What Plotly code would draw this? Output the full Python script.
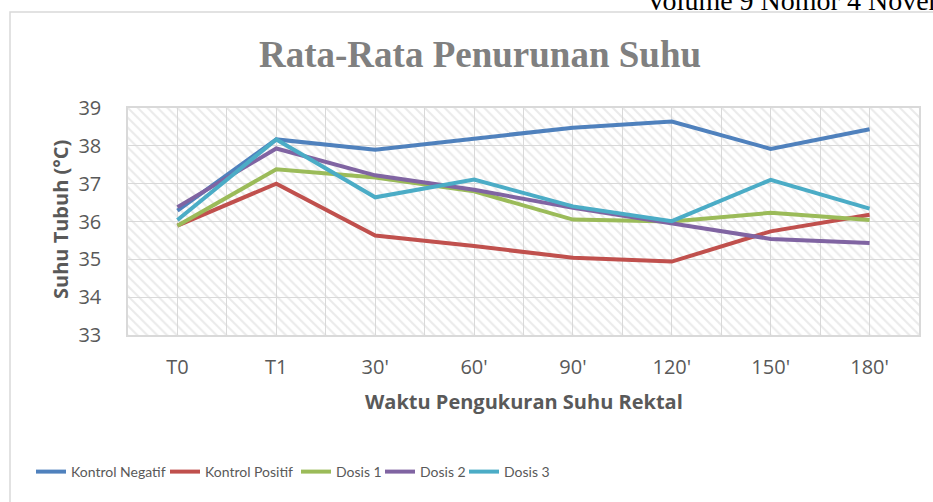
import plotly.graph_objects as go

# ---- data ----
categories = ["T0", "T1", "30'", "60'", "90'", "120'", "150'", "180'"]
kontrol_negatif = [36.29, 38.17, 37.90, 38.20, 38.48, 38.64, 37.92, 38.44]
kontrol_positif = [35.89, 37.00, 35.63, 35.35, 35.04, 34.94, 35.74, 36.18]
dosis_1 = [35.89, 37.38, 37.16, 36.80, 36.05, 36.00, 36.23, 36.04]
dosis_2 = [36.38, 37.93, 37.22, 36.84, 36.36, 35.96, 35.54, 35.43]
dosis_3 = [36.04, 38.17, 36.64, 37.11, 36.40, 36.01, 37.10, 36.34]
series_names = ["Kontrol Negatif", "Kontrol Positif", "Dosis 1", "Dosis 2", "Dosis 3"]
y_min, y_max = 33, 39
y_ticks = [33, 34, 35, 36, 37, 38, 39]

title_text = "Rata-Rata Penurunan Suhu"
y_title = "Suhu Tubuh (°C)"
x_title = "Waktu Pengukuran Suhu Rektal"
header_text = "Volume 9 Nomor 4 November"

# ---- layout geometry (pixels) ----
W, H = 933, 502
L, R, T, B = 128, 919, 108, 335
legend_px = [38, 172, 303, 387, 471]   # left edge of each legend line sample


def xp(px):
    return (px - L) / (R - L)


def yp(py):
    return (B - py) / (B - T)


colors = ["#4F81BD", "#C0504D", "#9BBB59", "#8064A2", "#4BACC6"]
TXT = "#595959"
GRID = "#d9d9d9"

idx = list(range(len(categories)))
x_lo, x_hi = -0.5, len(categories) - 0.5

fig = go.Figure()

# hatched plot-area background
fig.add_trace(go.Scatter(
    x=[x_lo, x_hi, x_hi, x_lo, x_lo], y=[y_min, y_min, y_max, y_max, y_min],
    mode="lines", line=dict(width=0), fill="toself",
    fillcolor="rgba(0,0,0,0)",
    fillpattern=dict(shape="\\", fgcolor="#d6d6d6", bgcolor="rgba(0,0,0,0)",
                     size=7, solidity=0.3),
    hoverinfo="skip", showlegend=False,
))

legend_layouts = {}
for i, (name, vals, c) in enumerate(zip(series_names,
                                        [kontrol_negatif, kontrol_positif, dosis_1, dosis_2, dosis_3],
                                        colors)):
    lg = "legend" if i == 0 else f"legend{i + 1}"
    fig.add_trace(go.Scatter(x=idx, y=vals, mode="lines", name=name, legend=lg,
                             line=dict(color=c, width=4)))
    legend_layouts[lg] = dict(
        orientation="h", x=xp(legend_px[i] - 7), xanchor="left",
        y=yp(472), yanchor="middle",
        font=dict(family="Lato", size=14, color=TXT),
        bgcolor="rgba(0,0,0,0)", itemwidth=30)

fig.update_layout(
    width=W, height=H,
    margin=dict(l=L, r=W - R, t=T, b=H - B, pad=0),
    paper_bgcolor="white", plot_bgcolor="white",
    font=dict(family="Open Sans", color=TXT),
    showlegend=True,
    xaxis=dict(range=[x_lo, x_hi], tickmode="array", tickvals=idx, ticktext=categories,
               showgrid=True, gridcolor=GRID, gridwidth=1.2, zeroline=False,
               showline=True, mirror=True, linecolor=GRID, linewidth=1.5,
               ticks="", ticklabelstandoff=13,
               tickfont=dict(family="Open Sans", size=20, color=TXT),
               minor=dict(tickmode="array", tickvals=[i + 0.5 for i in idx[:-1]],
                          showgrid=True, gridcolor=GRID, gridwidth=1.2, ticks="")),
    yaxis=dict(range=[y_min, y_max], tickmode="array", tickvals=y_ticks,
               showgrid=True, gridcolor=GRID, gridwidth=1.2, zeroline=False,
               showline=True, mirror=True, linecolor=GRID, linewidth=1.5,
               ticks="", ticklabelstandoff=21,
               tickfont=dict(family="Open Sans", size=20, color=TXT)),
    shapes=[dict(type="rect", xref="paper", yref="paper",
                 x0=xp(10), x1=xp(990), y0=yp(560), y1=yp(12),
                 line=dict(color="#d9d9d9", width=1.5), fillcolor="rgba(0,0,0,0)",
                 layer="below")],
    annotations=[
        dict(text=f"<b>{title_text}</b>", xref="paper", yref="paper",
             x=xp(480), y=yp(55), xanchor="center", yanchor="middle", showarrow=False,
             font=dict(family="Liberation Serif", size=37, color="#808080")),
        dict(text=f"<b>{y_title}</b>", xref="paper", yref="paper",
             x=xp(60), y=yp(220), xanchor="center", yanchor="middle", showarrow=False,
             textangle=-90, font=dict(family="Open Sans", size=20, color=TXT)),
        dict(text=f"<b>{x_title}</b>", xref="paper", yref="paper",
             x=xp(523.5), y=yp(401), xanchor="center", yanchor="middle", showarrow=False,
             font=dict(family="Open Sans", size=20, color=TXT)),
        dict(text=header_text, xref="paper", yref="paper",
             x=xp(644), y=yp(1), xanchor="left", yanchor="middle", showarrow=False,
             font=dict(family="Liberation Serif", size=28, color="black")),
    ],
    **legend_layouts,
)

fig.write_html("out.html",
               config={"displayModeBar": False},
               post_script="document.body.style.margin='0';document.body.style.overflow='hidden';")
